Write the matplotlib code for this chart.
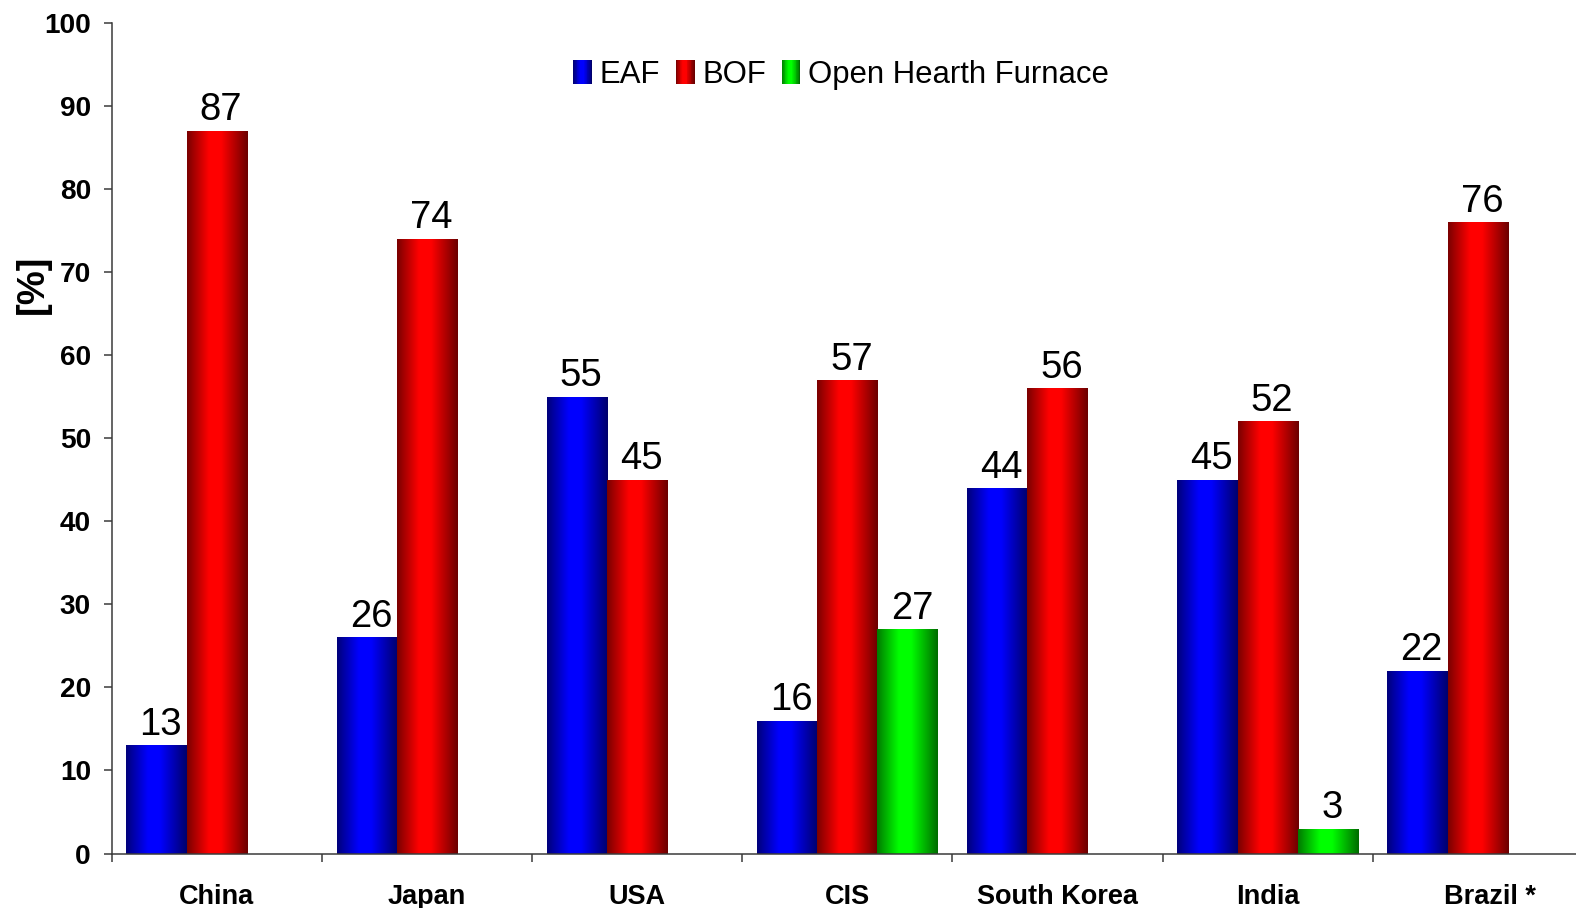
import numpy as np
import matplotlib
matplotlib.use("Agg")
import matplotlib.pyplot as plt
from matplotlib.patches import Rectangle
from matplotlib.legend_handler import HandlerBase
from matplotlib.transforms import ScaledTranslation

plt.rcParams["font.family"] = ["Liberation Sans", "DejaVu Sans"]

# Share of crude steel production by process route [%]
countries = ["China", "Japan", "USA", "CIS", "South Korea", "India", "Brazil *"]
eaf = [13, 26, 55, 16, 44, 45, 22]
bof = [87, 74, 45, 57, 56, 52, 76]
ohf = [np.nan, np.nan, np.nan, 27, np.nan, 3, np.nan]
series_names = ["EAF", "BOF", "Open Hearth Furnace"]
y_ticks = list(range(0, 101, 10))

base_colors = [(0.0, 0.0, 1.0), (1.0, 0.0, 0.0), (0.0, 1.0, 0.0)]


def shade(n=256):
    t = np.linspace(0, 1, n)
    return np.interp(t, [0.0, 0.36, 0.56, 1.0], [0.48, 1.0, 1.0, 0.42])


def gradient_image(color, n=256):
    f = shade(n)
    return f[None, :, None] * np.array(color)[None, None, :]


class GradientHandler(HandlerBase):
    def __init__(self, color, **kw):
        super().__init__(**kw)
        self.color = color

    def create_artists(self, legend, orig_handle, xdescent, ydescent,
                       width, height, fontsize, trans):
        n = 24
        f = shade(n)
        w = width / n
        arts = []
        for i in range(n):
            c = tuple(f[i] * np.array(self.color))
            r = Rectangle((-xdescent + i * w, -ydescent - 0.1 * height),
                          w * 1.05, height * 1.2, facecolor=c,
                          edgecolor="none", transform=trans)
            arts.append(r)
        return arts


fig = plt.figure(figsize=(15.76, 9.08), dpi=100)
ax = fig.add_axes([0.0709, 0.0600, 0.9335, 0.9150])

x = np.arange(len(countries))
width = 0.287
offsets = [-width, 0.0, width]
all_series = [eaf, bof, ohf]

handles = []
for vals, off, col, name in zip(all_series, offsets, base_colors, series_names):
    bars = ax.bar(x + off, vals, width, color=col, edgecolor="none",
                  zorder=1, label=name)
    handles.append(bars)
    img = gradient_image(col)
    for rect, v in zip(bars.patches, vals):
        if np.isnan(v):
            continue
        x0 = rect.get_x()
        x1 = x0 + rect.get_width()
        ax.imshow(img, extent=[x0, x1, 0, rect.get_height()], aspect="auto",
                  interpolation="bilinear", zorder=2)
        ax.annotate(f"{v:g}", (x0 + rect.get_width() / 2, rect.get_height()),
                    xytext=(3, 7.5), textcoords="offset points",
                    ha="center", va="baseline", fontsize=27.5, zorder=3)

ax.set_xlim(-0.5, len(countries) - 0.5)
ax.set_ylim(0, 100)

for side in ["top", "right"]:
    ax.spines[side].set_visible(False)
for side in ["left", "bottom"]:
    ax.spines[side].set_color("#3a3a3a")
    ax.spines[side].set_linewidth(1.1)

ax.set_yticks(y_ticks)
ax.set_yticklabels([str(v) for v in y_ticks], fontsize=20.2, fontweight="bold")
ax.tick_params(axis="y", length=6, width=1.1, color="#3a3a3a", pad=9)

ax.set_xticks(np.arange(-0.5, len(countries), 1.0))
ax.set_xticklabels([])
ax.tick_params(axis="x", which="major", length=6, width=1.1, color="#3a3a3a")
ax.set_xticks(x, minor=True)
ax.set_xticklabels(countries, minor=True, fontsize=19.5, fontweight="bold")
ax.tick_params(axis="x", which="minor", length=0, pad=22)
last = ax.xaxis.get_minorticklabels()[-1]
last.set_transform(last.get_transform() +
                   ScaledTranslation(0.12, 0, fig.dpi_scale_trans))

ax.set_ylabel("[%]", fontsize=27.5, fontweight="bold")
ax.yaxis.set_label_coords(-0.0417, 0.685)

ax.legend(handles=handles, labels=series_names, ncol=3, frameon=False,
          loc="center", bbox_to_anchor=(0.4958, 0.937), fontsize=22.4,
          handlelength=0.6, handleheight=0.62, handletextpad=0.25,
          columnspacing=0.5,
          handler_map={h: GradientHandler(c) for h, c in zip(handles, base_colors)})

fig.savefig("out.png", dpi=100)
